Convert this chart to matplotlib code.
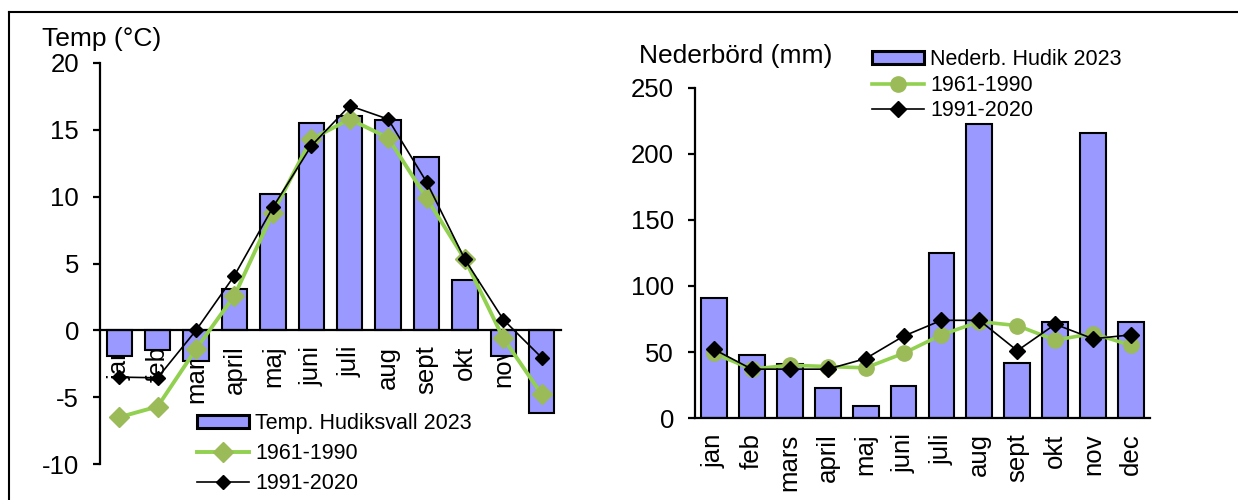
import matplotlib
matplotlib.use('Agg')
import matplotlib.pyplot as plt
from matplotlib.lines import Line2D
import numpy as np

plt.rcParams['font.family'] = ['Liberation Sans', 'DejaVu Sans']
plt.rcParams['axes.unicode_minus'] = False

months = ["jan", "feb", "mars", "april", "maj", "juni", "juli", "aug", "sept", "okt", "nov", "dec"]

# Temperatur (°C)
temp_2023 = [-1.9, -1.5, -2.3, 3.1, 10.2, 15.5, 16.0, 15.7, 13.0, 3.8, -1.9, -6.2]
temp_6190 = [-6.5, -5.7, -1.4, 2.6, 8.8, 14.3, 15.8, 14.4, 9.9, 5.3, -0.6, -4.8]
temp_9120 = [-3.5, -3.55, 0.0, 4.1, 9.2, 13.8, 16.8, 15.8, 11.1, 5.3, 0.8, -2.05]

# Nederbörd (mm)
prec_2023 = [91, 48, 41, 23, 9, 24, 125, 223, 42, 73, 216, 73]
prec_6190 = [49, 37, 40, 39, 38, 49, 63, 73, 70, 59, 64, 55]
prec_9120 = [52, 37, 37, 37, 45, 62, 74, 74, 51, 71, 60, 63]

BAR_C = "#9999FF"
GREEN_LINE = "#92D050"
GREEN_MK = "#9BBB59"
FS_TICK = 18.5
FS_TITLE = 19
FS_LEG = 15.5
W, H = 1238, 500

fig = plt.figure(figsize=(W / 100, H / 100), dpi=100)
x = np.arange(len(months))

def px_axes(l, r, top, bot):
    return fig.add_axes([l / W, 1 - bot / H, (r - l) / W, (bot - top) / H])

def style(ax):
    ax.spines['top'].set_visible(False)
    ax.spines['right'].set_visible(False)
    for s in ax.spines.values():
        s.set_linewidth(1.6)
        s.set_zorder(3.5)
    ax.tick_params(axis='y', direction='out', length=5, width=1.6, pad=10, labelsize=FS_TICK)
    ax.tick_params(axis='x', length=0, pad=11, labelsize=FS_TICK, labelrotation=90)
    ax.set_xlim(-0.5, 11.5)
    ax.set_xticks(x)
    ax.set_xticklabels(months, va='top', ha='center')
    ax.patch.set_alpha(0)

def legend(ax, handles, top_left, spacing):
    leg = ax.legend(handles=handles, loc='upper left', bbox_to_anchor=(top_left[0] / W, 1 - top_left[1] / H),
                    bbox_transform=fig.transFigure, frameon=False, fontsize=FS_LEG, handlelength=2.4,
                    handleheight=0.6, handletextpad=0.3, labelspacing=spacing, borderpad=0, borderaxespad=0)
    leg.legend_handles[0].set_linewidth(2.2)

# ── Temperatur ────────────────────────────────────────────────────────────────
ax1 = px_axes(100, 561, 63, 464)
b1 = ax1.bar(x, temp_2023, width=0.66, color=BAR_C, edgecolor='black', linewidth=1.5, zorder=3,
             label="Temp. Hudiksvall 2023")
l1, = ax1.plot(x, temp_6190, color=GREEN_LINE, lw=2.8, marker='D', ms=10, mfc=GREEN_MK, mec=GREEN_MK,
               zorder=4, label="1961-1990")
l2, = ax1.plot(x, temp_9120, color='black', lw=1.2, marker='D', ms=7, zorder=5, label="1991-2020")
ax1.set_ylim(-10, 20)
ax1.set_yticks([-10, -5, 0, 5, 10, 15, 20])
ax1.spines['bottom'].set_position(('data', 0))
style(ax1)
fig.text(42 / W, 1 - 39 / H, "Temp (°C)", fontsize=FS_TITLE, va='center', ha='left')
legend(ax1, [b1, l1, l2], (197, 413), 0.42)

# ── Nederbörd ─────────────────────────────────────────────────────────────────
ax2 = px_axes(695, 1150, 88, 418)
b2 = ax2.bar(x, prec_2023, width=0.68, color=BAR_C, edgecolor='black', linewidth=1.5, zorder=3,
             label="Nederb. Hudik 2023")
m1, = ax2.plot(x, prec_6190, color=GREEN_LINE, lw=2.6, marker='o', ms=11, mfc=GREEN_MK, mec=GREEN_MK,
               zorder=4, label="1961-1990")
m2, = ax2.plot(x, prec_9120, color='black', lw=1.2, marker='D', ms=8, zorder=5, label="1991-2020")
ax2.set_ylim(0, 250)
ax2.set_yticks([0, 50, 100, 150, 200, 250])
style(ax2)
fig.text(639 / W, 1 - 56 / H, "Nederbörd (mm)", fontsize=FS_TITLE, va='center', ha='left')
legend(ax2, [b2, m1, m2], (872, 49), 0.22)

# outer frame (top and left edges)
fig.add_artist(Line2D([9 / W, 1], [1 - 12 / H, 1 - 12 / H], color='black', lw=1.5))
fig.add_artist(Line2D([9 / W, 9 / W], [0, 1 - 12 / H], color='black', lw=1.5))

fig.savefig("out.png", dpi=100)
